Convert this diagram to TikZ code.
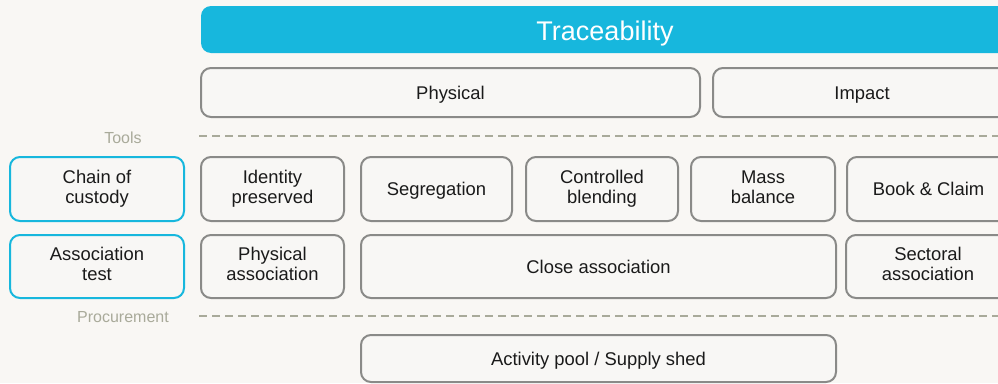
\documentclass[tikz,border=0pt]{standalone}
\usepackage{fontspec}
\setmainfont{Liberation Sans}
\usetikzlibrary{positioning}
\definecolor{pagebg}{HTML}{F9F7F4}
\definecolor{boxfill}{HTML}{F8F7F5}
\definecolor{cyanbar}{HTML}{17B7DD}
\definecolor{boxline}{HTML}{8A8A88}
\definecolor{guide}{HTML}{A9AA9A}
\definecolor{ink}{HTML}{1A1A1A}
% fixed top and bottom struts so every card sets its lines at the same height
\newcommand\topstrut{\rule{0pt}{18pt}}
\newcommand\botstrut{\rule[-4.6pt]{0pt}{4.6pt}}
\tikzset{
  card/.style={draw=boxline, line width=2pt, fill=boxfill, rounded corners=10pt,
    text=ink, align=center, inner sep=0pt,
    font=\fontsize{18.4}{20}\selectfont,
    execute at begin node=\topstrut, execute at end node=\botstrut},
  keycard/.style={card, draw=cyanbar},
  banner/.style={fill=cyanbar, rounded corners=10pt, inner sep=0pt},
  bannertext/.style={text=white, inner sep=0pt, anchor=base,
    font=\fontsize{27}{30}\selectfont},
  tierlabel/.style={text=guide, font=\fontsize{16}{18}\selectfont, inner sep=0pt},
  tierline/.style={draw=guide, line width=2pt, dash pattern=on 8pt off 5pt},
}
\begin{document}
\begin{tikzpicture}[x=1pt, y=-1pt]
  \useasboundingbox (0,0) rectangle (998,383);
  \fill[pagebg] (0,0) rectangle (998,383);
  \clip (0,0) rectangle (998,383);

  % heading bar
  \node[banner, minimum width=809pt, minimum height=47pt] (trace) at (605.5,29.5) {};
  \node[bannertext] (tracetitle) at (605,40) {Traceability};

  % traceability kinds
  \node[card, minimum width=499pt, minimum height=49pt] (physical) at (450.5,92.5) {Physical};
  \node[card, minimum width=298pt, minimum height=49pt] (impact) at (862,92.5) {Impact};

  % tier separators
  \node[tierlabel] (tools) at (123,137.5) {Tools};
  \coordinate (toolsA) at (199,136);
  \coordinate (toolsB) at (998,136);
  \draw[tierline] (toolsA) -- (toolsB);

  \node[tierlabel] (procure) at (123,317.5) {Procurement};
  \coordinate (procA) at (199,316);
  \coordinate (procB) at (998,316);
  \draw[tierline] (procA) -- (procB);

  % chain of custody row
  \node[keycard, minimum width=174pt, minimum height=64pt] (coc) at (97,189) {Chain of\\custody};
  \node[card, minimum width=143pt, minimum height=64pt] (idp) at (272.5,189) {Identity\\preserved};
  \node[card, minimum width=151pt, minimum height=64pt] (seg) at (436.5,189) {Segregation};
  \node[card, minimum width=152pt, minimum height=64pt] (blend) at (602,189) {Controlled\\blending};
  \node[card, minimum width=144pt, minimum height=64pt] (mass) at (763,189) {Mass\\balance};
  \node[card, minimum width=163pt, minimum height=64pt] (book) at (928.5,189) {Book \& Claim};

  % association test row
  \node[keycard, minimum width=174pt, minimum height=63pt] (assoc) at (97,266.5) {Association\\test};
  \node[card, minimum width=143pt, minimum height=63pt] (phys) at (272.5,266.5) {Physical\\association};
  \node[card, minimum width=475pt, minimum height=63pt] (close) at (598.5,266.5) {Close association};
  \node[card, minimum width=164pt, minimum height=63pt] (sector) at (928,266.5) {Sectoral\\association};

  % procurement base
  \node[card, minimum width=475pt, minimum height=47pt] (pool) at (598.5,358.5) {Activity pool / Supply shed};
\end{tikzpicture}
\end{document}
